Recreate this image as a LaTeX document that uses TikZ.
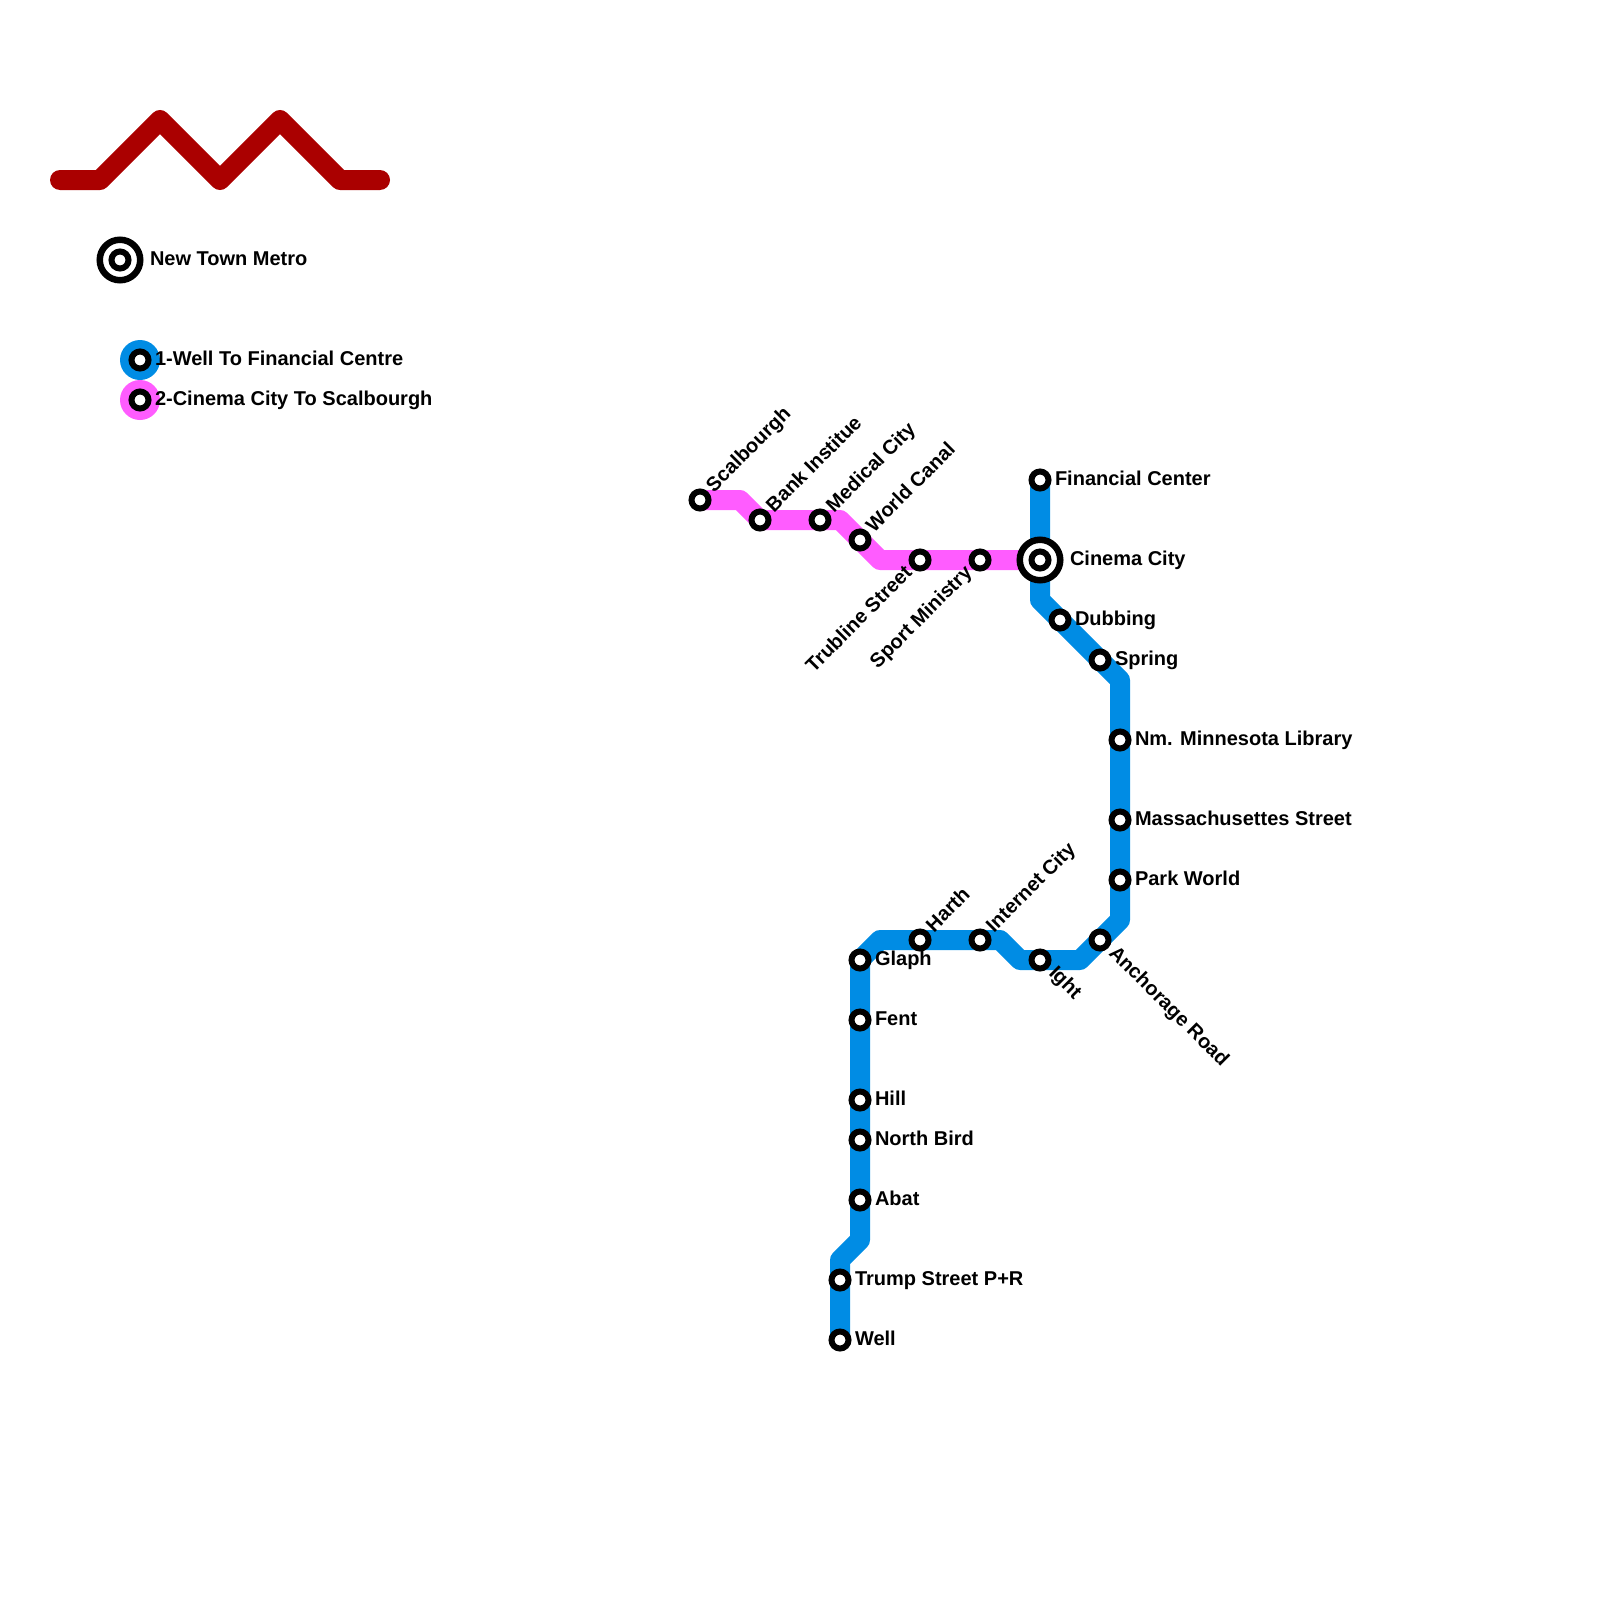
\documentclass[tikz,border=0pt]{standalone}
\usepackage{fontspec}
\setmainfont{Liberation Sans}
\usetikzlibrary{backgrounds}
\definecolor{lineblue}{HTML}{008CE4}
\definecolor{linepink}{HTML}{FF5CFF}
\definecolor{logored}{HTML}{AA0000}
\tikzset{
  stn/.style={circle,draw=black,fill=white,line width=6pt,minimum size=17pt,inner sep=0pt,outer sep=0pt},
  ring/.style={circle,draw=black,fill=white,line width=6.5pt,minimum size=40.5pt,inner sep=0pt,outer sep=0pt},
  disc/.style={circle,minimum size=40pt,inner sep=0pt,outer sep=0pt},
  lbl/.style={font=\bfseries\fontsize{20}{22}\selectfont,text=black,inner sep=0pt,outer sep=0pt},
  e/.style={lbl,anchor=base west},
  ne/.style={lbl,anchor=base west,rotate=45},
  se/.style={lbl,anchor=base west,rotate=-45},
  sw/.style={lbl,anchor=base east,rotate=45},
  metro/.style={line width=20pt,line join=round},
}
\begin{document}
\begin{tikzpicture}[x=1pt,y=-1pt]
\useasboundingbox (0,0) rectangle (1600,1600);
% logo
\coordinate (lg1) at (60,180);\coordinate (lg2) at (100,180);\coordinate (lg3) at (160,120);
\coordinate (lg4) at (220,180);\coordinate (lg5) at (280,120);\coordinate (lg6) at (340,180);\coordinate (lg7) at (380,180);
\draw[line width=20pt,line cap=round,line join=round,color=logored]
  (lg1)--(lg2)--(lg3)--(lg4)--(lg5)--(lg6)--(lg7);
% legend
\node[ring] (legR) at (120,260) {};
\node[stn] (legS) at (120,260) {};
\node[e] (legT) at (150,265) {New Town Metro};
\node[disc,fill=lineblue] (legB) at (140,360) {};
\node[stn] (legBs) at (140,360) {};
\node[disc,fill=linepink] (legP) at (140,400) {};
\node[stn] (legPs) at (140,400) {};
\node[e] (legBt) at (155,365) {1-Well To Financial Centre};
\node[e] (legPt) at (155,405) {2-Cinema City To Scalbourgh};
% bends
\coordinate (b1) at (840,1260);\coordinate (b2) at (860,1240);\coordinate (b3) at (880,940);
\coordinate (b4) at (1000,940);\coordinate (b5) at (1020,960);\coordinate (b6) at (1080,960);
\coordinate (b7) at (1120,920);\coordinate (b8) at (1120,680);\coordinate (b9) at (1040,600);
\coordinate (p1) at (740,500);\coordinate (p2) at (840,520);\coordinate (p3) at (880,560);
% stations, blue line
\node[stn] (well) at (840,1340) {};
\node[stn] (trump) at (840,1280) {};
\node[stn] (abat) at (860,1200) {};
\node[stn] (bird) at (860,1140) {};
\node[stn] (hill) at (860,1100) {};
\node[stn] (fent) at (860,1020) {};
\node[stn] (glaph) at (860,960) {};
\node[stn] (harth) at (920,940) {};
\node[stn] (inet) at (980,940) {};
\node[stn] (ight) at (1040,960) {};
\node[stn] (anch) at (1100,940) {};
\node[stn] (park) at (1120,880) {};
\node[stn] (mass) at (1120,820) {};
\node[stn] (minn) at (1120,740) {};
\node[stn] (spring) at (1100,660) {};
\node[stn] (dub) at (1060,620) {};
\node[ring] (cineR) at (1040,560) {};
\node[stn] (cine) at (1040,560) {};
\node[stn] (fin) at (1040,480) {};
% stations, pink line
\node[stn] (scal) at (700,500) {};
\node[stn] (bank) at (760,520) {};
\node[stn] (med) at (820,520) {};
\node[stn] (world) at (860,540) {};
\node[stn] (trub) at (920,560) {};
\node[stn] (sport) at (980,560) {};
% lines
\begin{scope}[on background layer]
\draw[metro,color=lineblue] (well.center)--(b1)--(b2)--(glaph.center)--(b3)--(b4)--(b5)--(b6)--(b7)--(b8)--(b9)--(fin.center);
\draw[metro,color=linepink] (scal.center)--(p1)--(bank.center)--(p2)--(p3)--(cine.center);
\end{scope}
% labels
\node[e] (tWell) at (855,1345) {Well};
\node[e] (tTrump) at (855,1285) {Trump Street P+R};
\node[e] (tAbat) at (875,1205) {Abat};
\node[e] (tBird) at (875,1145) {North Bird};
\node[e] (tHill) at (875,1105) {Hill};
\node[e] (tFent) at (875,1025) {Fent};
\node[e] (tGlaph) at (875,965) {Glaph};
\node[e] (tPark) at (1135,885) {Park World};
\node[e] (tMass) at (1135,825) {Massachusettes Street};
\node[e] (tMinn) at (1135,745) {Nm. Minnesota Library};
\node[e] (tSpring) at (1115,665) {Spring};
\node[e] (tDub) at (1075,625) {Dubbing};
\node[e] (tCine) at (1070,565) {Cinema City};
\node[e] (tFin) at (1055,485) {Financial Center};
\node[ne] (tHarth) at (934,933) {Harth};
\node[ne] (tInet) at (994,933) {Internet City};
\node[ne] (tScal) at (714,493) {Scalbourgh};
\node[ne] (tBank) at (774,513) {Bank Institue};
\node[ne] (tMed) at (834,513) {Medical City};
\node[ne] (tWorld) at (874,533) {World Canal};
\node[se] (tIght) at (1048,974) {Ight};
\node[se] (tAnch) at (1108,954) {Anchorage Road};
\node[sw] (tTrub) at (913,574) {Trubline Street};
\node[sw] (tSport) at (973,574) {Sport Ministry};
\end{tikzpicture}
\end{document}
